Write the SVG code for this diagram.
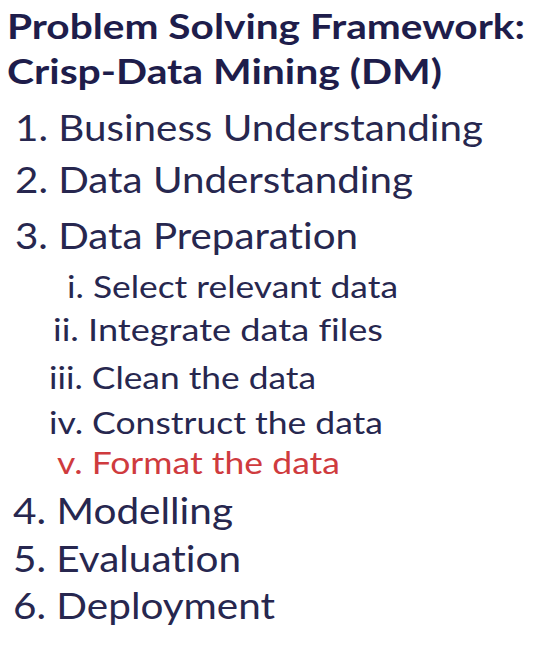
<svg xmlns="http://www.w3.org/2000/svg" width="537" height="663" viewBox="0 0 537 663">
<style>
text{font-family:Lato,"Open Sans","Liberation Sans",sans-serif;fill:#27274f;font-variant-ligatures:none;font-feature-settings:"liga" 0}
.t{font-weight:bold;font-size:34px;fill:#1e1d4b}
.m{font-size:36px}
.s{font-size:30px}
.r{fill:#cf3b3e}
</style>
<rect width="537" height="663" fill="#ffffff"/>
<g id="title">
<text class="t" x="7" y="39" textLength="518" lengthAdjust="spacingAndGlyphs">Problem Solving Framework:</text>
<text class="t" x="7" y="84" textLength="435" lengthAdjust="spacingAndGlyphs">Crisp-Data Mining (DM)</text>
</g>
<g id="step1"><text class="m" x="15" y="141" textLength="468" lengthAdjust="spacingAndGlyphs">1. Business Understanding</text></g>
<g id="step2"><text class="m" x="15" y="193" textLength="398" lengthAdjust="spacingAndGlyphs">2. Data Understanding</text></g>
<g id="step3"><text class="m" x="15" y="249" textLength="343" lengthAdjust="spacingAndGlyphs">3. Data Preparation</text></g>
<g id="step3i"><text class="s" x="67" y="298" textLength="331" lengthAdjust="spacingAndGlyphs">i. Select relevant data</text></g>
<g id="step3ii"><text class="s" x="53" y="341" textLength="330" lengthAdjust="spacingAndGlyphs">ii. Integrate data files</text></g>
<g id="step3iii"><text class="s" x="49" y="389" textLength="267" lengthAdjust="spacingAndGlyphs">iii. Clean the data</text></g>
<g id="step3iv"><text class="s" x="49" y="434" textLength="334" lengthAdjust="spacingAndGlyphs">iv. Construct the data</text></g>
<g id="step3v"><text class="s r" x="57" y="474" textLength="283" lengthAdjust="spacingAndGlyphs">v. Format the data</text></g>
<g id="step4"><text class="m" x="13" y="524" textLength="220" lengthAdjust="spacingAndGlyphs">4. Modelling</text></g>
<g id="step5"><text class="m" x="13" y="572" textLength="228" lengthAdjust="spacingAndGlyphs">5. Evaluation</text></g>
<g id="step6"><text class="m" x="13" y="619" textLength="262" lengthAdjust="spacingAndGlyphs">6. Deployment</text></g>
<g id="connectors"></g>
</svg>
